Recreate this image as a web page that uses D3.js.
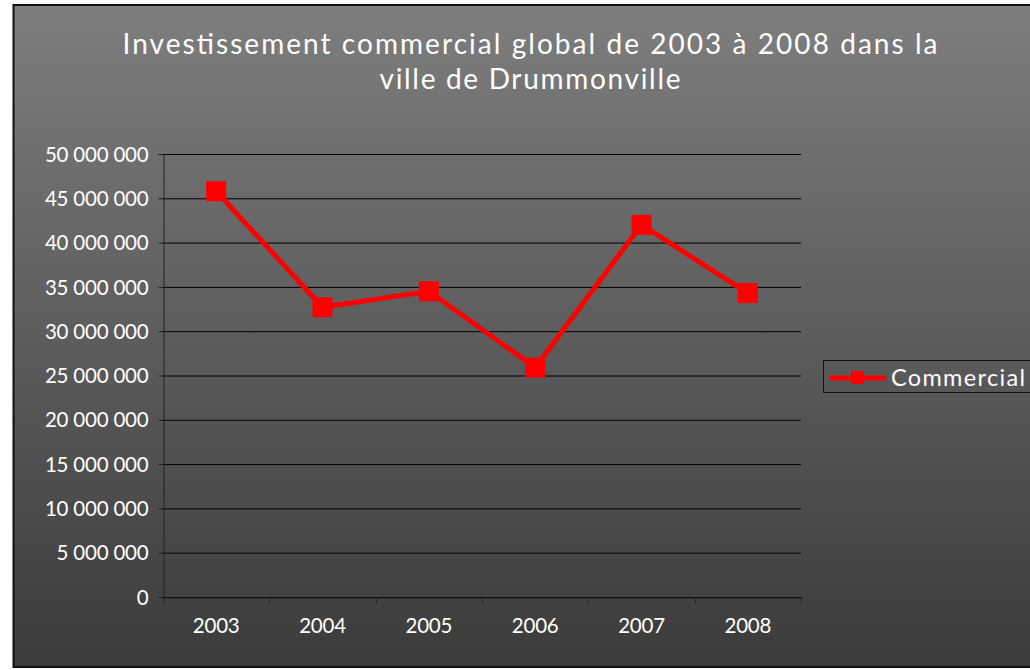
<!DOCTYPE html>
<html><head><meta charset="utf-8">
<script src="https://cdn.jsdelivr.net/npm/d3@7"></script>
<style>body{margin:0;background:#fff}svg{display:block}text{font-family:Lato,"DejaVu Sans",sans-serif}</style>
</head><body><svg id="c" width="1030" height="670"></svg>
<script>
const categories = ["2003","2004","2005","2006","2007","2008"];
const values = [45800000, 32700000, 34500000, 25900000, 42000000, 34300000];
const yTicks = [0,5000000,10000000,15000000,20000000,25000000,30000000,35000000,40000000,45000000,50000000];
const seriesName = "Commercial";
const titleLines = ["Investissement commercial global de 2003 à 2008 dans la","ville de Drummonville"];

const svg = d3.select("#c");
const defs = svg.append("defs");
const g = defs.append("linearGradient").attr("id","bg").attr("x1",0).attr("y1",0).attr("x2",0).attr("y2",1);
g.append("stop").attr("offset","0%").attr("stop-color","#7e7e7e");
g.append("stop").attr("offset","100%").attr("stop-color","#3b3b3b");
svg.append("rect").attr("x",13.5).attr("y",5).attr("width",1030).attr("height",662)
  .attr("fill","url(#bg)").attr("stroke","#111").attr("stroke-width",2);

const titleW = [815, 301];
svg.selectAll("text.title").data(titleLines).enter().append("text")
  .attr("x",530).attr("y",(d,i)=>53.5+i*35).attr("text-anchor","middle")
  .attr("textLength",(d,i)=>titleW[i]).attr("lengthAdjust","spacing")
  .attr("fill","#fff").attr("font-size",28).text(d=>d);

const L=163,R=801,T=154,B=597;
const x = d3.scaleBand().domain(categories).range([L,R]);
const y = d3.scaleLinear().domain([0,50000000]).range([B,T]);
const fmt = v => d3.format(",")(v).replace(/,/g," ");

svg.append("g").selectAll("line").data(yTicks).enter().append("line")
  .attr("x1",L).attr("x2",R).attr("y1",d=>y(d)+0.5).attr("y2",d=>y(d)+0.5)
  .attr("stroke","#000").attr("stroke-width",1);

const ya = svg.append("g").attr("transform",`translate(${L+0.5},0)`)
  .call(d3.axisLeft(y).tickValues(yTicks).tickSize(5).tickFormat(fmt));
ya.select(".domain").attr("stroke","#222");
ya.selectAll(".tick line").attr("stroke","#222");
ya.selectAll("text").attr("fill","#fff").attr("font-size",20.5).attr("letter-spacing","-0.2")
  .attr("x",-15).attr("dy","0.35em").style("font-family","Lato,'DejaVu Sans',sans-serif");

const xa = svg.append("g").attr("transform",`translate(0,${B+0.5})`)
  .call(d3.axisBottom(x).tickSize(0).tickFormat(d=>d));
xa.select(".domain").attr("stroke","#222");
xa.selectAll("text").attr("fill","#fff").attr("font-size",20.5).attr("letter-spacing","-0.2")
  .attr("y",21).style("font-family","Lato,'DejaVu Sans',sans-serif");
const bounds = categories.map(c=>x(c)).concat([R]);
svg.append("g").selectAll("line").data(bounds).enter().append("line")
  .attr("x1",d=>Math.round(d)+0.5).attr("x2",d=>Math.round(d)+0.5).attr("y1",B).attr("y2",B+6)
  .attr("stroke","#222");

const cx = c => x(c)+x.bandwidth()/2;
const line = d3.line().x((d,i)=>cx(categories[i])).y(d=>y(d));
svg.append("path").datum(values).attr("d",line).attr("fill","none")
  .attr("stroke","#ff0000").attr("stroke-width",5).attr("stroke-linejoin","miter");
svg.append("g").selectAll("rect").data(values).enter().append("rect")
  .attr("x",(d,i)=>cx(categories[i])-10).attr("y",d=>y(d)-10)
  .attr("width",20).attr("height",20).attr("fill","#ff0000");

const lg = svg.append("g");
lg.append("rect").attr("x",823.5).attr("y",360.5).attr("width",230).attr("height",32)
  .attr("fill","none").attr("stroke","#111");
lg.append("line").attr("x1",830).attr("x2",886).attr("y1",378).attr("y2",378)
  .attr("stroke","#ff0000").attr("stroke-width",5);
lg.append("rect").attr("x",851).attr("y",371).attr("width",13).attr("height",13).attr("fill","#ff0000");
lg.append("text").attr("x",891).attr("y",386).attr("fill","#fff").attr("font-size",23.5)
  .attr("textLength",134).attr("lengthAdjust","spacing").text(seriesName);
</script></body></html>
